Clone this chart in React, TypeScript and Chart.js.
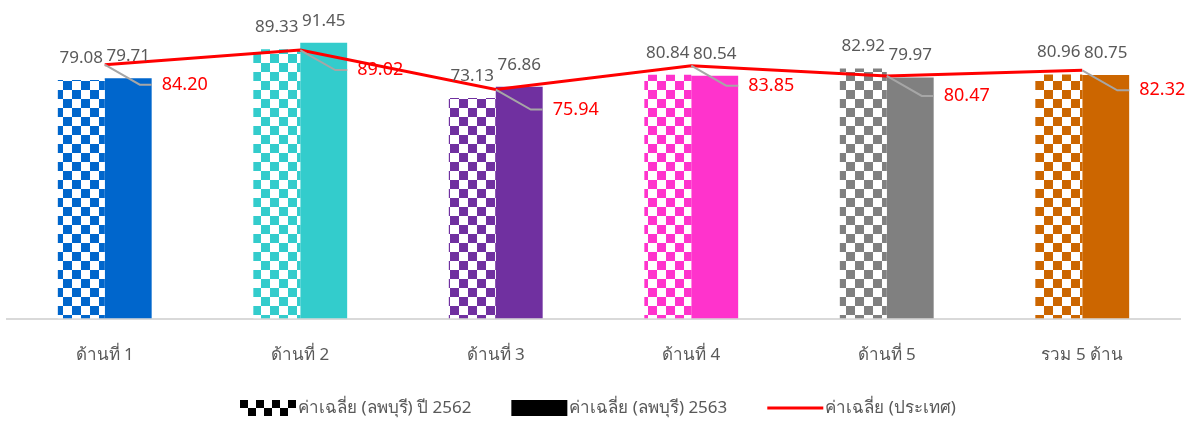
import React, { useEffect, useRef } from 'react';
import { Chart, registerables } from 'chart.js';
Chart.register(...registerables);

const categories = ['ด้านที่ 1', 'ด้านที่ 2', 'ด้านที่ 3', 'ด้านที่ 4', 'ด้านที่ 5', 'รวม 5 ด้าน'];
const lopburi2562 = [79.08, 89.33, 73.13, 80.84, 82.92, 80.96];
const lopburi2563 = [79.71, 91.45, 76.86, 80.54, 79.97, 80.75];
const national = [84.2, 89.02, 75.94, 83.85, 80.47, 82.32];
const barColors = ['#0066CC', '#33CCCC', '#7030A0', '#FF33CC', '#808080', '#CC6600'];
const seriesLabels = ['ค่าเฉลี่ย (ลพบุรี) ปี 2562', 'ค่าเฉลี่ย (ลพบุรี) 2563', 'ค่าเฉลี่ย (ประเทศ)'];

const FONT = '"Noto Sans", "Open Sans", sans-serif';

function makeChecker(ctx: CanvasRenderingContext2D, color: string, size = 9) {
  const c = document.createElement('canvas');
  c.width = size * 2;
  c.height = size * 2;
  const g = c.getContext('2d')!;
  g.fillStyle = '#FFFFFF';
  g.fillRect(0, 0, size * 2, size * 2);
  g.fillStyle = color;
  g.fillRect(0, 0, size, size);
  g.fillRect(size, size, size, size);
  return ctx.createPattern(c, 'repeat')!;
}

const labelsPlugin = {
  id: 'valueLabels',
  afterDatasetsDraw(chart: any) {
    const ctx = chart.ctx as CanvasRenderingContext2D;
    ctx.save();
    [0, 1].forEach((di) => {
      const meta = chart.getDatasetMeta(di);
      const data = chart.data.datasets[di].data as number[];
      meta.data.forEach((el: any, i: number) => {
        ctx.font = `17px ${FONT}`;
        ctx.fillStyle = '#595959';
        ctx.textAlign = 'center';
        ctx.textBaseline = 'middle';
        ctx.fillText(data[i].toFixed(2), el.x, el.y - 22);
      });
    });
    const lmeta = chart.getDatasetMeta(2);
    const ldata = chart.data.datasets[2].data as number[];
    lmeta.data.forEach((el: any, i: number) => {
      const textLeft = el.x + 57;
      const cy = el.y + 20;
      ctx.strokeStyle = '#A6A6A6';
      ctx.lineWidth = 2;
      ctx.beginPath();
      ctx.moveTo(el.x, el.y);
      ctx.lineTo(textLeft - 22, cy);
      ctx.lineTo(textLeft - 10, cy);
      ctx.stroke();
      ctx.font = `18px ${FONT}`;
      ctx.fillStyle = '#FF0000';
      ctx.textAlign = 'left';
      ctx.textBaseline = 'middle';
      ctx.fillText(ldata[i].toFixed(2), textLeft, cy);
    });
    ctx.restore();
  },
};

const legendPlugin = {
  id: 'customLegend',
  afterDraw(chart: any) {
    const ctx = chart.ctx as CanvasRenderingContext2D;
    ctx.save();
    ctx.font = `17px ${FONT}`;
    const boxW = 56;
    const boxH = 16;
    const textGap = 2;
    const itemGap = 40;
    const widths = seriesLabels.map((t) => boxW + textGap + ctx.measureText(t).width);
    const total = widths.reduce((a, b) => a + b, 0) + itemGap * (widths.length - 1);
    let x = Math.round((chart.width - total) / 2);
    const cy = 408;
    seriesLabels.forEach((t, i) => {
      if (i === 0) {
        const sq = 8;
        for (let r = 0; r < 2; r++) {
          for (let c = 0; c < 7; c++) {
            ctx.fillStyle = (r + c) % 2 === 0 ? '#000000' : '#FFFFFF';
            ctx.fillRect(x + c * sq, cy - boxH / 2 + r * sq, sq, sq);
          }
        }
      } else if (i === 1) {
        ctx.fillStyle = '#000000';
        ctx.fillRect(x, cy - boxH / 2, boxW, boxH);
      } else {
        ctx.strokeStyle = '#FF0000';
        ctx.lineWidth = 3;
        ctx.beginPath();
        ctx.moveTo(x, cy);
        ctx.lineTo(x + boxW, cy);
        ctx.stroke();
      }
      ctx.fillStyle = '#595959';
      ctx.textAlign = 'left';
      ctx.textBaseline = 'middle';
      ctx.fillText(t, x + boxW + textGap, cy);
      x += widths[i] + itemGap;
    });
    ctx.restore();
  },
};

export default function App() {
  const ref = useRef<HTMLCanvasElement>(null);
  useEffect(() => {
    const canvas = ref.current!;
    const ctx = canvas.getContext('2d')!;
    const patterns = barColors.map((c) => makeChecker(ctx, c, 9));
    const chart = new Chart(canvas, {
      type: 'bar',
      data: {
        labels: categories,
        datasets: [
          {
            type: 'bar',
            label: seriesLabels[0],
            data: lopburi2562,
            backgroundColor: patterns as any,
            barPercentage: 1,
            categoryPercentage: 0.48,
            order: 2,
          },
          {
            type: 'bar',
            label: seriesLabels[1],
            data: lopburi2563,
            backgroundColor: barColors,
            barPercentage: 1,
            categoryPercentage: 0.48,
            order: 2,
          },
          {
            type: 'line',
            label: seriesLabels[2],
            data: national,
            borderColor: '#FF0000',
            borderWidth: 3,
            pointRadius: 0,
            tension: 0,
            order: 1,
          } as any,
        ],
      },
      options: {
        animation: false,
        responsive: true,
        maintainAspectRatio: false,
        layout: { padding: { left: 7, right: 15, top: 17, bottom: 30 } },
        plugins: { legend: { display: false }, tooltip: { enabled: false } },
        scales: {
          x: {
            grid: { display: false, drawTicks: false },
            border: { color: '#D9D9D9', width: 2 },
            ticks: { color: '#595959', font: { size: 17, family: FONT }, padding: 26 },
          },
          y: { display: false, min: 0, max: 100 },
        },
      },
      plugins: [labelsPlugin, legendPlugin],
    });
    return () => chart.destroy();
  }, []);
  return (
    <div style={{ position: 'fixed', left: 0, top: 0, width: 1195, height: 421, background: '#fff' }}>
      <canvas ref={ref} />
    </div>
  );
}
